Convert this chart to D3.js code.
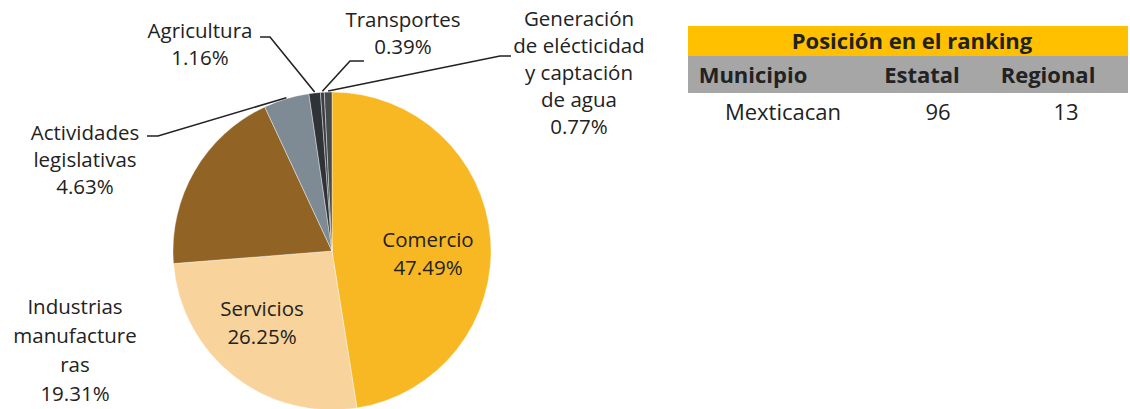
<!DOCTYPE html>
<html>
<head>
<meta charset="utf-8">
<script src="https://cdn.jsdelivr.net/npm/d3@7"></script>
<style>
  body { margin: 0; background: #fff; }
  svg text { font-family: "Open Sans", "Noto Sans", sans-serif; fill: #222; }
</style>
</head>
<body>
<div id="chart"></div>
<script>
// sectors in clockwise order from 12 o'clock
const sectors = ["Comercio", "Servicios", "Industrias manufactureras", "Actividades legislativas",
  "Agricultura", "Transportes", "Generación de eléctricidad y captación de agua"];
const shares = [47.49, 26.25, 19.31, 4.63, 1.16, 0.39, 0.77];
const colors = ["#F8B823", "#F8D39B", "#916325", "#7E8A94", "#2F3338", "#3B3F44", "#46494E"];

// label lines as drawn in the picture
const labelLines = [
  ["Comercio", "47.49%"],
  ["Servicios", "26.25%"],
  ["Industrias", "manufacture", "ras", "19.31%"],
  ["Actividades", "legislativas", "4.63%"],
  ["Agricultura", "1.16%"],
  ["Transportes", "0.39%"],
  ["Generación", "de elécticidad", "y captación", "de agua", "0.77%"]
];

const rankTitle = "Posición en el ranking";
const rankHeaders = ["Municipio", "Estatal", "Regional"];
const rankRow = ["Mexticacan", "96", "13"];

const width = 1130, height = 409;
const svg = d3.select("#chart").append("svg")
  .attr("width", width).attr("height", height);

const cx = 332, cy = 251, r = 159;
const data = sectors.map((s, i) => ({name: s, value: shares[i], color: colors[i], lines: labelLines[i]}));

const pie = d3.pie().sort(null).value(d => d.value);
const arcs = pie(data);
const arc = d3.arc().innerRadius(0).outerRadius(r);

const g = svg.append("g").attr("transform", `translate(${cx},${cy})`);
g.selectAll("path").data(arcs).join("path")
  .attr("d", arc)
  .attr("fill", d => d.data.color)
  .attr("stroke", "#fff")
  .attr("stroke-width", 0.4);

const fs = 20.5;
// label anchor positions (relative to the svg), inside labels for the big slices
const labelPos = [
  {x: 428, y: 247, lh: 28},
  {x: 262, y: 316, lh: 28},
  {x: 75, y: 314, lh: 29},
  {x: 85, y: 140, lh: 27},
  {x: 200, y: 38, lh: 27},
  {x: 403, y: 27, lh: 27},
  {x: 579, y: 26, lh: 27}
];

arcs.forEach((a, i) => {
  const p = labelPos[i];
  const t = svg.append("text")
    .attr("text-anchor", "middle")
    .attr("font-size", fs);
  a.data.lines.forEach((ln, j) => {
    t.append("tspan").attr("x", p.x).attr("y", p.y + j * p.lh).text(ln);
  });
});

// leader lines for the small slices: from label to the slice edge
const outer = d3.arc().innerRadius(r).outerRadius(r);
const leaders = [
  {i: 3, pts: [[147, 136], [158, 136]]},
  {i: 4, pts: [[260, 37], [270, 37]]},
  {i: 5, pts: [[364, 61], [350, 61]]},
  {i: 6, pts: [[511, 56], [500, 56]]}
];
leaders.forEach(l => {
  const c = outer.centroid(arcs[l.i]);
  const end = [cx + c[0], cy + c[1] - 1];
  svg.append("path")
    .attr("d", d3.line()([...l.pts, end]))
    .attr("fill", "none")
    .attr("stroke", "#222")
    .attr("stroke-width", 1.6);
});

// ranking table
const tx = 688, tw = width - tx - 2;
svg.append("rect").attr("x", tx).attr("y", 26).attr("width", tw).attr("height", 30).attr("fill", "#FFC000");
svg.append("rect").attr("x", tx).attr("y", 56).attr("width", tw).attr("height", 37).attr("fill", "#A6A6A6");

svg.append("text").attr("x", 912).attr("y", 49)
  .attr("text-anchor", "middle").attr("font-size", 22).attr("font-weight", "bold")
  .text(rankTitle);

const colX = [753, 922, 1048];
const rowX = [783, 938, 1066];
svg.selectAll(".hdr").data(rankHeaders).join("text").attr("class", "hdr")
  .attr("x", (d, i) => colX[i]).attr("y", 83)
  .attr("text-anchor", "middle").attr("font-size", 22).attr("font-weight", "bold")
  .text(d => d);
svg.selectAll(".row").data(rankRow).join("text").attr("class", "row")
  .attr("x", (d, i) => rowX[i]).attr("y", 120)
  .attr("text-anchor", "middle").attr("font-size", 22)
  .text(d => d);
</script>
</body>
</html>
